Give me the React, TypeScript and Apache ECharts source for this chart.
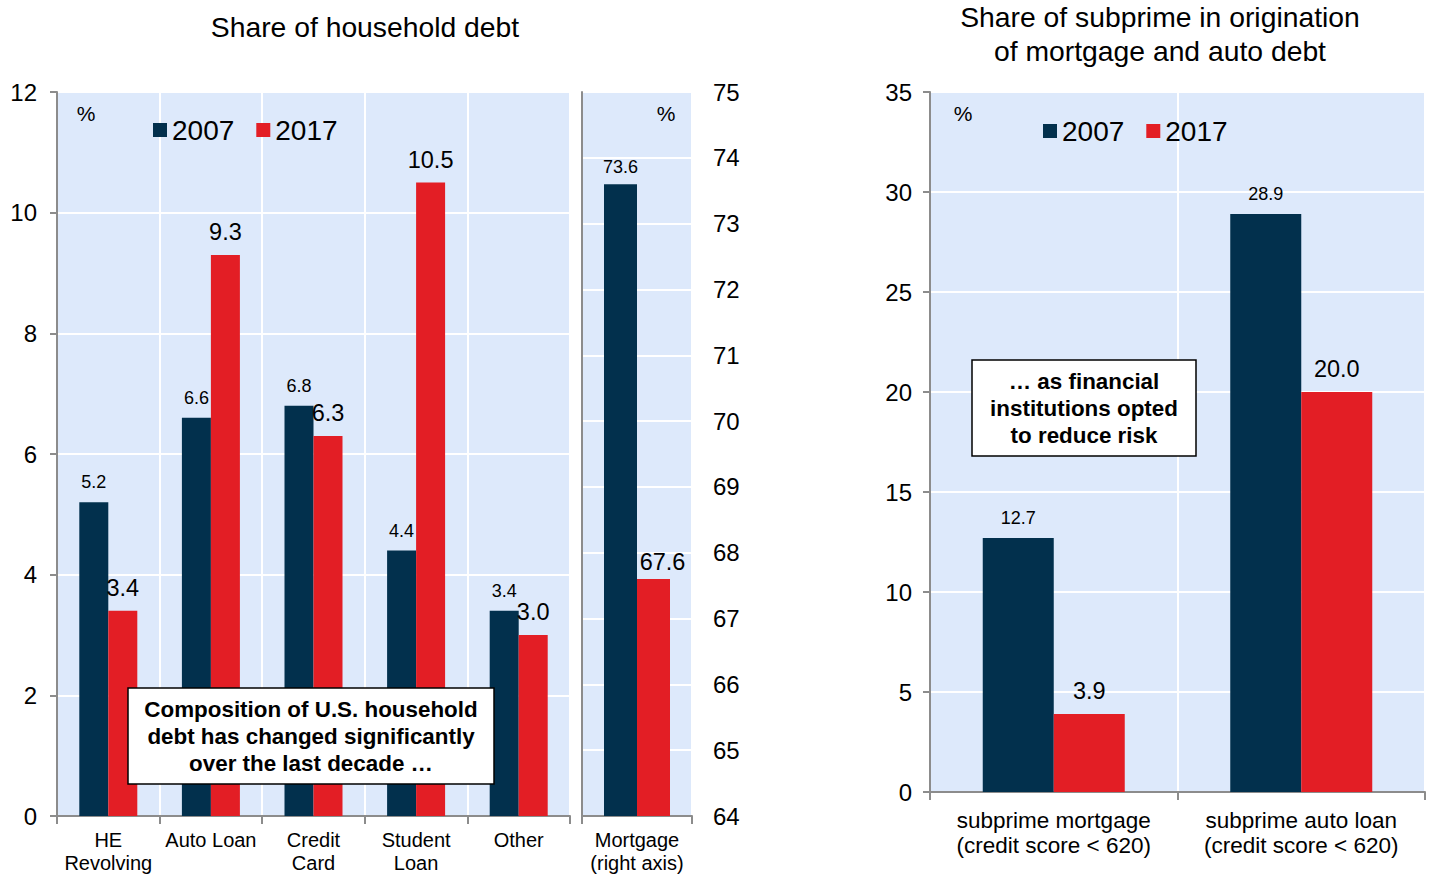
import React, { useEffect, useRef } from "react";
import * as echarts from "echarts";

const debtCategories = ["HE\nRevolving", "Auto Loan", "Credit\nCard", "Student\nLoan", "Other"];
const debt2007 = [5.2, 6.6, 6.8, 4.4, 3.4];
const debt2017 = [3.4, 9.3, 6.3, 10.5, 3.0];

const mortgageCategories = ["Mortgage\n(right axis)"];
const mortgage2007 = [73.6];
const mortgage2017 = [67.6];

const subprimeCategories = ["subprime mortgage\n(credit score < 620)", "subprime auto loan\n(credit score < 620)"];
const subprime2007 = [12.7, 28.9];
const subprime2017 = [3.9, 20.0];

const seriesNames = ["2007", "2017"];

const NAVY = "#02304d";
const RED = "#e31e25";
const BG = "#dde9fb";
const AXIS = "#8c8c8c";
const FONT = "'Liberation Sans', Arial, sans-serif";

export default function App() {
  const ref = useRef<HTMLDivElement>(null);
  useEffect(() => {
    if (!ref.current) return;
    const chart = echarts.init(ref.current, null, { renderer: "svg" });

    const gridBase = { show: true, backgroundColor: BG, borderWidth: 0, containLabel: false };
    const catAxis = (gridIndex: number, data: string[], fontSize: number, lineHeight: number, margin: number) => ({
      type: "category",
      gridIndex,
      data,
      axisLine: { show: true, lineStyle: { color: AXIS, width: 2 } },
      axisTick: { show: true, length: 8, lineStyle: { color: AXIS, width: 2 } },
      splitLine: { show: true, lineStyle: { color: "#ffffff", width: 2 } },
      axisLabel: { interval: 0, color: "#000", fontSize, lineHeight, margin, fontFamily: FONT },
    });
    const valAxis = (gridIndex: number, min: number, max: number, interval: number, position: string, showLine: boolean, margin: number) => ({
      type: "value",
      gridIndex,
      min,
      max,
      interval,
      position,
      axisLine: { show: showLine, lineStyle: { color: AXIS, width: 2 } },
      axisTick: { show: showLine, length: 7, lineStyle: { color: AXIS, width: 2 } },
      splitLine: { show: true, lineStyle: { color: "#ffffff", width: 2 } },
      axisLabel: { color: "#000", fontSize: 24, margin, fontFamily: FONT },
    });

    const lbl = (fontSize: number, extra: any = {}) => ({
      show: true,
      position: "top",
      distance: 11,
      color: "#000",
      fontSize,
      fontFamily: FONT,
      formatter: (p: any) => Number(p.value).toFixed(1),
      ...extra,
    });

    const textEl = (x: number, y: number, text: string, fontSize: number, extra: any = {}) => ({
      type: "text",
      x,
      y,
      z: 100,
      style: { text, fontSize, fontFamily: FONT, fill: "#000", align: "center", verticalAlign: "middle", ...extra },
    });

    const box = (x: number, y: number, w: number, h: number, text: string) => ({
      type: "group",
      z: 100,
      children: [
        { type: "rect", z: 100, shape: { x, y, width: w, height: h }, style: { fill: "#ffffff", stroke: "#000", lineWidth: 1.5 } },
        textEl(x + w / 2, y + h / 2, text, 22.4, { fontWeight: "bold", lineHeight: 27 }),
      ],
    });

    const legendText = { fontSize: 28, color: "#000", fontFamily: FONT };

    const option: any = {
      animation: false,
      grid: [
        { ...gridBase, left: 57, top: 92, width: 513, height: 724 },
        { ...gridBase, left: 582, top: 92, width: 110, height: 724 },
        { ...gridBase, left: 930, top: 92, width: 495, height: 700 },
      ],
      xAxis: [
        catAxis(0, debtCategories, 20, 23, 12),
        catAxis(1, mortgageCategories, 20, 23, 12),
        catAxis(2, subprimeCategories, 22.5, 25, 16),
      ],
      yAxis: [
        valAxis(0, 0, 12, 2, "left", true, 20),
        valAxis(1, 64, 75, 1, "right", false, 21),
        valAxis(2, 0, 35, 5, "left", true, 18),
        { ...valAxis(1, 64, 75, 1, "left", true, 10), axisTick: { show: false }, splitLine: { show: false }, axisLabel: { show: false } },
      ],
      legend: [
        {
          data: seriesNames, left: 148, top: 111, icon: "rect", itemWidth: 14, itemHeight: 14, itemGap: 22,
          textStyle: legendText, selectedMode: false,
        },
        {
          data: seriesNames, left: 1038, top: 112, icon: "rect", itemWidth: 14, itemHeight: 14, itemGap: 22,
          textStyle: legendText, selectedMode: false,
        },
      ],
      series: [
        { name: "2007", type: "bar", xAxisIndex: 0, yAxisIndex: 0, data: debt2007, barWidth: 29, barGap: "0%", itemStyle: { color: NAVY }, label: lbl(18) },
        { name: "2017", type: "bar", xAxisIndex: 0, yAxisIndex: 0, data: debt2017, barWidth: 29, barGap: "0%", itemStyle: { color: RED }, label: lbl(23.5) },
        { name: "2007", type: "bar", xAxisIndex: 1, yAxisIndex: 1, data: mortgage2007, barWidth: 33, barGap: "0%", itemStyle: { color: NAVY }, label: lbl(18, { distance: 8 }) },
        { name: "2017", type: "bar", xAxisIndex: 1, yAxisIndex: 1, data: mortgage2017, barWidth: 33, barGap: "0%", itemStyle: { color: RED }, label: lbl(23.5, { offset: [9, 0], distance: 5 }) },
        { name: "2007", type: "bar", xAxisIndex: 2, yAxisIndex: 2, data: subprime2007, barWidth: 71, barGap: "0%", itemStyle: { color: NAVY }, label: lbl(18) },
        { name: "2017", type: "bar", xAxisIndex: 2, yAxisIndex: 2, data: subprime2017, barWidth: 71, barGap: "0%", itemStyle: { color: RED }, label: lbl(23.5) },
      ],
      graphic: [
        textEl(365, 27, "Share of household debt", 28.3),
        textEl(1160, 34, "Share of subprime in origination\nof mortgage and auto debt", 28.3, { lineHeight: 34 }),
        textEl(86, 113, "%", 21),
        textEl(666, 113, "%", 21),
        textEl(963, 113, "%", 21),
        box(128, 688, 366, 96, "Composition of U.S. household\ndebt has changed significantly\nover the last decade \u2026"),
        box(972, 360, 224, 96, "\u2026 as financial\ninstitutions opted\nto reduce risk"),
      ],
    };
    chart.setOption(option);
    return () => chart.dispose();
  }, []);
  return <div ref={ref} style={{ position: "fixed", left: 0, top: 0, width: 1430, height: 874, background: "#fff" }} />;
}
